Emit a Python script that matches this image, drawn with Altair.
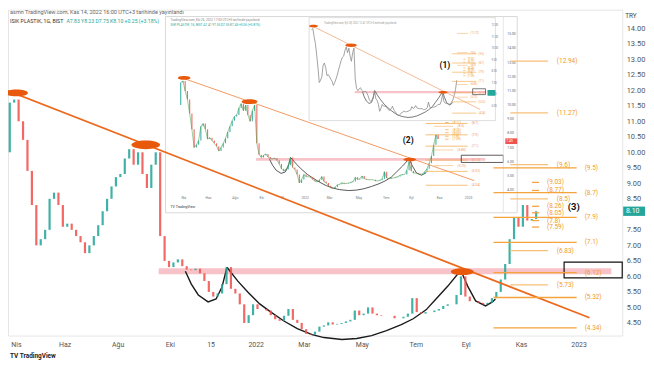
import altair as alt
import pandas as pd

# ---------------- values ----------------
# one candle every 5 calendar days; day 0 = 2022-01-01
first_day = -278
step_days = 5
first_open = 10.0
closes = [
    11.6, 11.7, 11.0, 10.4, 9.4, 8.3, 7.0, 7.2, 7.5, 8.5,
    8.7, 8.3, 7.6, 7.7, 7.5, 7.3, 7.1, 6.75, 7.0, 7.3,
    7.65, 8.1, 8.5, 8.9, 9.2, 9.3, 9.8, 10.1, 9.6, 10.0,
    9.3, 8.85, 9.6, 10.0, 7.3, 6.5, 6.3, 6.45, 6.55, 6.33,
    6.22, 6.2, 6.25, 6.1, 5.85, 5.5, 5.35, 5.45, 5.75, 6.3,
    5.6, 5.45, 5.1, 4.5, 4.75, 5.1, 4.95, 4.95, 4.9, 4.75,
    4.62, 4.57, 4.73, 4.95, 4.6, 4.5, 4.3, 4.15, 4.12, 4.22,
    4.38, 4.42, 4.52, 4.45, 4.47, 4.5, 4.55, 4.6, 4.9, 4.75,
    4.8, 5.0, 4.8, 4.75, 4.73, 4.73, 4.73, 4.65, 4.65, 4.7,
    4.8, 5.3, 4.85, 4.8, 4.85, 4.85, 4.9, 4.95, 5.05, 5.1,
    5.1, 5.4, 6.0, 5.35, 5.2, 5.2, 5.15, 5.1, 5.15, 5.3,
    5.5, 5.9, 6.4, 7.2, 7.9, 7.6, 8.3, 7.8, 7.85, 8.10,
]

tick_days = [-271, -216, -156, -97, -51, 0, 54.5, 120, 181, 237.4, 300, 365]
tick_labels = ["Nis", "Haz", "Ağu", "Eki", "15", "2022", "Mar", "May", "Tem", "Eyl", "Kas", "2023"]
price_ticks = [4.5, 5.0, 5.5, 6.0, 6.5, 7.0, 7.5, 8.5, 9.0, 9.5, 10.0, 10.5,
               11.0, 11.5, 12.0, 12.5, 13.0, 13.5, 14.0]
last_price = 8.10

fib_long = [9.5, 8.7, 7.9, 7.1, 6.12, 5.32, 4.34]
fib_short = [12.94, 11.27, 9.6, 8.5, 6.83, 5.73]
fib_tiny = [9.03, 8.77, 8.26, 8.05, 7.8, 7.59]
fib_long_days = [268.8, 362.8, 371.8]    # line start, line end, label
fib_short_days = [287.8, 330.3, 340.4]
fib_tiny_days = [312.4, 320.3, 329.2]

trend_days = [-280, 377.4]
trend_prices = [11.979, 4.667]
peak_days = [-270.4, -124.3, 233.5]
peak_prices = [11.915, 10.24, 6.15]
peak_widths = [23, 29, 23]

band_days = [-109.7, 402]
band_prices = [6.07, 6.26]
box_left_day = 348.6
box_prices = [5.95, 6.46]

cup_small_days = [-79.5, -72.8, -64.9, -53.8, -44.8, -38.1, -32.5]
cup_small_prices = [6.167, 5.752, 5.401, 5.177, 5.273, 5.656, 6.295]
cup_big_days = [-32.5, -20.2, -9.0, 4.5, 16.8, 31.4, 47.0, 63.8, 77.3, 97.4,
                114.2, 131.0, 147.8, 164.6, 178.0, 192.6, 203.8, 217.2, 231.8]
cup_big_prices = [6.295, 5.848, 5.497, 5.114, 4.858, 4.571, 4.315, 4.124, 4.029, 3.965,
                  3.997, 4.092, 4.252, 4.443, 4.635, 4.922, 5.273, 5.688, 6.199]
handle_days = [231.8, 239.6, 248.6, 259.8, 267.6, 271.0]
handle_prices = [6.199, 5.688, 5.209, 5.050, 5.177, 5.273]

# view windows (main chart and the two pasted screenshots)
main_x = [-280, 414.3]
main_y = [4.092, 14.597]
inset2_x = [-663.7, 708.0]
inset2_y = [-6.272, 16.735]
inset1_x = [-1458.7, 930.5]
inset1_y = [-15.02, 13.343]

inset2_frame_days = [-311.9, 473.5]
inset2_frame_prices = [2.40, 16.25]
inset2_cut_day = 298
inset2_box_right = 442.5
inset2_axis_prices = list(range(4, 16))
inset2_last_price = 7.45

inset1_frame_days = [-287.3, 437.2]
inset1_frame_prices = [3.69, 12.65]
inset1_cut_day = 287
inset1_box_right = 398.7
inset1_axis_prices = list(range(5, 13))
inset1_last_price = 6.1

# ---------------- tables ----------------
days = [first_day + step_days * i for i in range(len(closes))]
opens = [first_open] + closes[:-1]
candles = pd.DataFrame({"d": days, "o": opens, "c": closes})
trend = pd.DataFrame({"d": trend_days, "p": trend_prices})
peaks = pd.DataFrame({"d": peak_days, "p": peak_prices, "w": peak_widths})
band = pd.DataFrame({"d": [band_days[0]], "d2": [band_days[1]],
                     "p": [band_prices[0]], "p2": [band_prices[1]]})

cup_rows = []
for name, ds, ps in [("s", cup_small_days, cup_small_prices),
                     ("b", cup_big_days, cup_big_prices),
                     ("h", handle_days, handle_prices)]:
    for i, (d, p) in enumerate(zip(ds, ps)):
        cup_rows.append({"d": d, "p": p, "seg": name, "i": i})
cups = pd.DataFrame(cup_rows)

fib_rows = []
for vals, span, kind in [(fib_long, fib_long_days, "long"),
                         (fib_short, fib_short_days, "short"),
                         (fib_tiny, fib_tiny_days, "tiny")]:
    for v in vals:
        fib_rows.append({"d": span[0], "d2": span[1], "dl": span[2], "p": v,
                         "t": f"({v})", "kind": kind})
fib = pd.DataFrame(fib_rows)

ELLIPSE = "M-1,0A1,0.3,0,1,1,1,0A1,0.3,0,1,1,-1,0Z"
UP, DOWN = "#26a69a", "#ef5350"


def xy(xdom, ydom, xaxis=None, yaxis=None):
    xs = alt.Scale(domain=xdom, nice=False, zero=False)
    ys = alt.Scale(domain=ydom, nice=False, zero=False)

    def X(f):
        return alt.X(f + ":Q", scale=xs, axis=xaxis)

    def Y(f):
        return alt.Y(f + ":Q", scale=ys, axis=yaxis)
    return X, Y


def rect(df, X, Y, **mk):
    return alt.Chart(df).mark_rect(**mk).encode(
        x=X("d"), x2=alt.X2("d2"), y=Y("p"), y2=alt.Y2("p2"))


def texts(df, X, Y, align="left", weight="normal"):
    return alt.Chart(df).mark_text(align=align, baseline="middle", font="Roboto",
                                   fontWeight=weight).encode(
        x=X("d"), y=Y("p"), text="t:N",
        size=alt.Size("fs:Q", scale=None), color=alt.Color("col:N", scale=None))


def candle_layer(X, Y, width, cut=None):
    ch = alt.Chart(candles)
    if cut is not None:
        ch = ch.transform_filter(f"datum.d <= {cut}")
    return ch.mark_rule(strokeWidth=width, opacity=0.88).encode(
        x=X("d"), y=Y("o"), y2=alt.Y2("c"),
        color=alt.condition("datum.c >= datum.o", alt.value(UP), alt.value(DOWN)))


def cup_layer(X, Y, color, width):
    return alt.Chart(cups).mark_line(color=color, strokeWidth=width).encode(
        x=X("d"), y=Y("p"), detail="seg:N", order="i:Q")


def trend_layer(X, Y, color, width):
    return alt.Chart(trend).mark_line(color=color, strokeWidth=width).encode(x=X("d"), y=Y("p"))


def peak_layer(X, Y, k):
    return alt.Chart(peaks).transform_calculate(s=f"pow(datum.w * {k}, 2)").mark_point(
        shape=ELLIPSE, filled=True, opacity=1, color="#e8590c").encode(
        x=X("d"), y=Y("p"), size=alt.Size("s:Q", scale=None))


def fib_layers(X, Y, width, fs, pmax=None):
    ch = alt.Chart(fib)
    if pmax is not None:
        ch = ch.transform_filter(f"datum.p <= {pmax}")
    lines = ch.mark_rule(strokeWidth=width).encode(
        x=X("d"), x2=alt.X2("d2"), y=Y("p"),
        color=alt.Color("kind:N", legend=None,
                        scale=alt.Scale(domain=["long", "short", "tiny"],
                                        range=["#f5a33c", "#f8bf78", "#f5a33c"])))
    labels = ch.mark_text(align="left", baseline="middle", fontSize=fs,
                          color="#f09a2a", font="Roboto").encode(
        x=X("dl"), y=Y("p"), text="t:N")
    return [lines, labels]


def box_df(right):
    return pd.DataFrame({"d": [box_left_day], "d2": [right],
                         "p": [box_prices[0]], "p2": [box_prices[1]]})


# ---------------- main chart ----------------
expr = "''"
for v, lab in reversed(list(zip(tick_days, tick_labels))):
    expr = f"datum.value == {v} ? '{lab}' : {expr}"

xaxis = alt.Axis(values=tick_days, labelExpr=expr, labelFontSize=7, labelColor="#555555",
                 labelFont="Roboto", ticks=False, domain=False, grid=False, labelPadding=5,
                 labelOverlap=False, labelFlush=False, title=None)
yaxis = alt.Axis(orient="right", values=price_ticks, format=".2f", labelFontSize=7.5,
                 labelColor="#555555", labelFont="Roboto", ticks=False, domain=False,
                 grid=False, labelPadding=4, labelOverlap=False, labelFlush=False, title=None)

Xm, Ym = xy(main_x, main_y, xaxis, yaxis)
main_text = pd.DataFrame([
    {"d": -277.7, "p": 14.52, "t": "asmn TradingView.com, Kas 14, 2022 16:00 UTC+3 tarihinde yayınlandı",
     "fs": 5.6, "col": "#666666"},
    {"d": -277.7, "p": 14.22, "t": "ISIK PLASTIK, 1G, BIST", "fs": 5.3, "col": "#333333"},
    {"d": -214.0, "p": 14.22, "t": "A7.83 Y8.23 D7.75 K8.10 +0.25 (+3.18%)", "fs": 5.2, "col": UP},
])
logo = pd.DataFrame([{"d": -277.7, "p": 3.42, "t": "TV TradingView", "fs": 6.5, "col": "#222222"}])

main = alt.layer(
    rect(band, Xm, Ym, color="#f8c3c8"),
    cup_layer(Xm, Ym, "#1a1a1a", 1.4),
    candle_layer(Xm, Ym, 2.2),
    rect(box_df(main_x[1]), Xm, Ym, fillOpacity=0, stroke="#111111", strokeWidth=1.2),
    texts(main_text, Xm, Ym),
    texts(logo, Xm, Ym, weight="bold"),
)

# ---------------- inset 2 (larger screenshot) ----------------
X2, Y2 = xy(inset2_x, inset2_y)
frame2 = pd.DataFrame({"d": [inset2_frame_days[0]], "d2": [inset2_frame_days[1]],
                       "p": [inset2_frame_prices[0]], "p2": [inset2_frame_prices[1]]})
sep2 = pd.DataFrame({"d": [inset2_box_right], "p": [inset2_frame_prices[0]],
                     "p2": [inset2_frame_prices[1]]})
axis2 = pd.DataFrame({"d": 451.3, "p": inset2_axis_prices,
                      "t": [f"{v:.2f}" for v in inset2_axis_prices], "fs": 3.4, "col": "#666666"})
marker2 = pd.DataFrame({"d": [446.9], "d2": [473.5], "p": [inset2_last_price - 0.2],
                        "p2": [inset2_last_price + 0.2]})
marker2_t = pd.DataFrame([{"d": 449, "p": inset2_last_price, "t": f"{inset2_last_price:.2f}",
                           "fs": 3.4, "col": "#ffffff"}])
months2 = pd.DataFrame({"d": tick_days, "p": 3.45, "t": tick_labels, "fs": 3.4, "col": "#777777"})
head2 = pd.DataFrame([
    {"d": -300.9, "p": 16.02, "t": "TradingView.com, Eki 26, 2022 17:03 UTC+3 tarihinde yayınlandı",
     "fs": 3.2, "col": "#888888"},
    {"d": -300.9, "p": 15.68, "t": "ISIK PLASTIK, 1G, BIST  A7.41 Y7.55 D7.35 K7.45 +0.06 (+0.81%)",
     "fs": 3.2, "col": UP},
    {"d": -300.9, "p": 2.82, "t": "TV TradingView", "fs": 3.6, "col": "#333333"},
])
lab2 = pd.DataFrame([{"d": 230.1, "p": 7.50, "t": "(2)", "fs": 8.5, "col": "#111111"}])

inset2 = alt.layer(
    rect(frame2, X2, Y2, color="#ffffff", stroke="#cfcfcf", strokeWidth=0.8),
    rect(band, X2, Y2, color="#f8c3c8"),
    cup_layer(X2, Y2, "#444444", 0.9),
    candle_layer(X2, Y2, 1.1, inset2_cut_day),
    alt.Chart(candles).transform_filter(f"datum.d <= {inset2_cut_day}").mark_line(
        color="#43a047", strokeWidth=0.9, opacity=0.6).encode(x=X2("d"), y=Y2("c")),
    trend_layer(X2, Y2, "#f39a62", 1.0),
    peak_layer(X2, Y2, 0.55),
    *fib_layers(X2, Y2, 0.7, 3.2),
    rect(box_df(inset2_box_right), X2, Y2, fillOpacity=0, stroke="#333333", strokeWidth=0.8),
    alt.Chart(sep2).mark_rule(color="#e0e0e0", strokeWidth=0.8).encode(
        x=X2("d"), y=Y2("p"), y2=alt.Y2("p2")),
    texts(axis2, X2, Y2),
    rect(marker2, X2, Y2, color=DOWN),
    texts(marker2_t, X2, Y2),
    texts(months2, X2, Y2, align="center"),
    texts(head2, X2, Y2),
    texts(lab2, X2, Y2, align="center", weight="bold"),
)

# ---------------- inset 1 (small screenshot) ----------------
X1, Y1 = xy(inset1_x, inset1_y)
frame1 = pd.DataFrame({"d": [inset1_frame_days[0]], "d2": [inset1_frame_days[1]],
                       "p": [inset1_frame_prices[0]], "p2": [inset1_frame_prices[1]]})
axis1 = pd.DataFrame({"d": 421.8, "p": inset1_axis_prices,
                      "t": [f"{v:.2f}" for v in inset1_axis_prices], "fs": 2.7, "col": "#777777"})
marker1 = pd.DataFrame({"d": [406.4], "d2": [437.2], "p": [inset1_last_price - 0.25],
                        "p2": [inset1_last_price + 0.25]})
head1 = pd.DataFrame([{"d": -229.5, "p": 12.2,
                       "t": "TradingView.com, Eyl 28, 2022 12:41 UTC+3 tarihinde yayınlandı",
                       "fs": 2.6, "col": "#999999"}])
lab1 = pd.DataFrame([{"d": 240.7, "p": 8.56, "t": "(1)", "fs": 8.5, "col": "#111111"}])

inset1 = alt.layer(
    rect(frame1, X1, Y1, color="#ffffff", stroke="#d6d6d6", strokeWidth=0.8),
    rect(band, X1, Y1, color="#f8c3c8"),
    cup_layer(X1, Y1, "#555555", 0.8),
    alt.Chart(candles).transform_filter(f"datum.d <= {inset1_cut_day}").mark_line(
        color="#8a8a8a", strokeWidth=0.8).encode(x=X1("d"), y=Y1("c")),
    trend_layer(X1, Y1, "#f3a77d", 0.8),
    peak_layer(X1, Y1, 0.4),
    *fib_layers(X1, Y1, 0.6, 2.6, 12),
    rect(box_df(inset1_box_right), X1, Y1, fillOpacity=0, stroke="#444444", strokeWidth=0.7),
    texts(axis1, X1, Y1),
    rect(marker1, X1, Y1, color=UP),
    texts(head1, X1, Y1),
    texts(lab1, X1, Y1, align="center", weight="bold"),
)

# ---------------- main annotations drawn over the screenshots ----------------
Xt, Yt = xy(main_x, main_y)
last_box = pd.DataFrame({"d": [415.4], "d2": [440.1], "p": [last_price - 0.15],
                         "p2": [last_price + 0.15]})
top_text = pd.DataFrame([
    {"d": 418.5, "p": last_price, "t": f"{last_price:.2f}", "fs": 7, "col": "#ffffff"},
    {"d": 417.7, "p": 14.405, "t": "TRY", "fs": 6.5, "col": "#444444"},
])
lab3 = pd.DataFrame([{"d": 359.5, "p": 8.243, "t": "(3)", "fs": 9.5, "col": "#111111"}])

top = alt.layer(
    trend_layer(Xt, Yt, "#ec6a1e", 1.8),
    peak_layer(Xt, Yt, 1.0),
    *fib_layers(Xt, Yt, 1.3, 6.5),
    rect(last_box, Xt, Yt, color=UP),
    texts(top_text, Xt, Yt),
    texts(lab3, Xt, Yt, align="center", weight="bold"),
)

chart = alt.layer(main, inset2, inset1, top).resolve_scale(
    x="independent", y="independent"
).properties(
    width=620, height=329,
    autosize=alt.AutoSizeParams(type="none"),
    padding={"left": 0, "top": 0, "right": 24, "bottom": 28},
).configure_view(stroke="#e6e6e6")

chart.save("out.html", embed_options={"renderer": "svg", "actions": False})
